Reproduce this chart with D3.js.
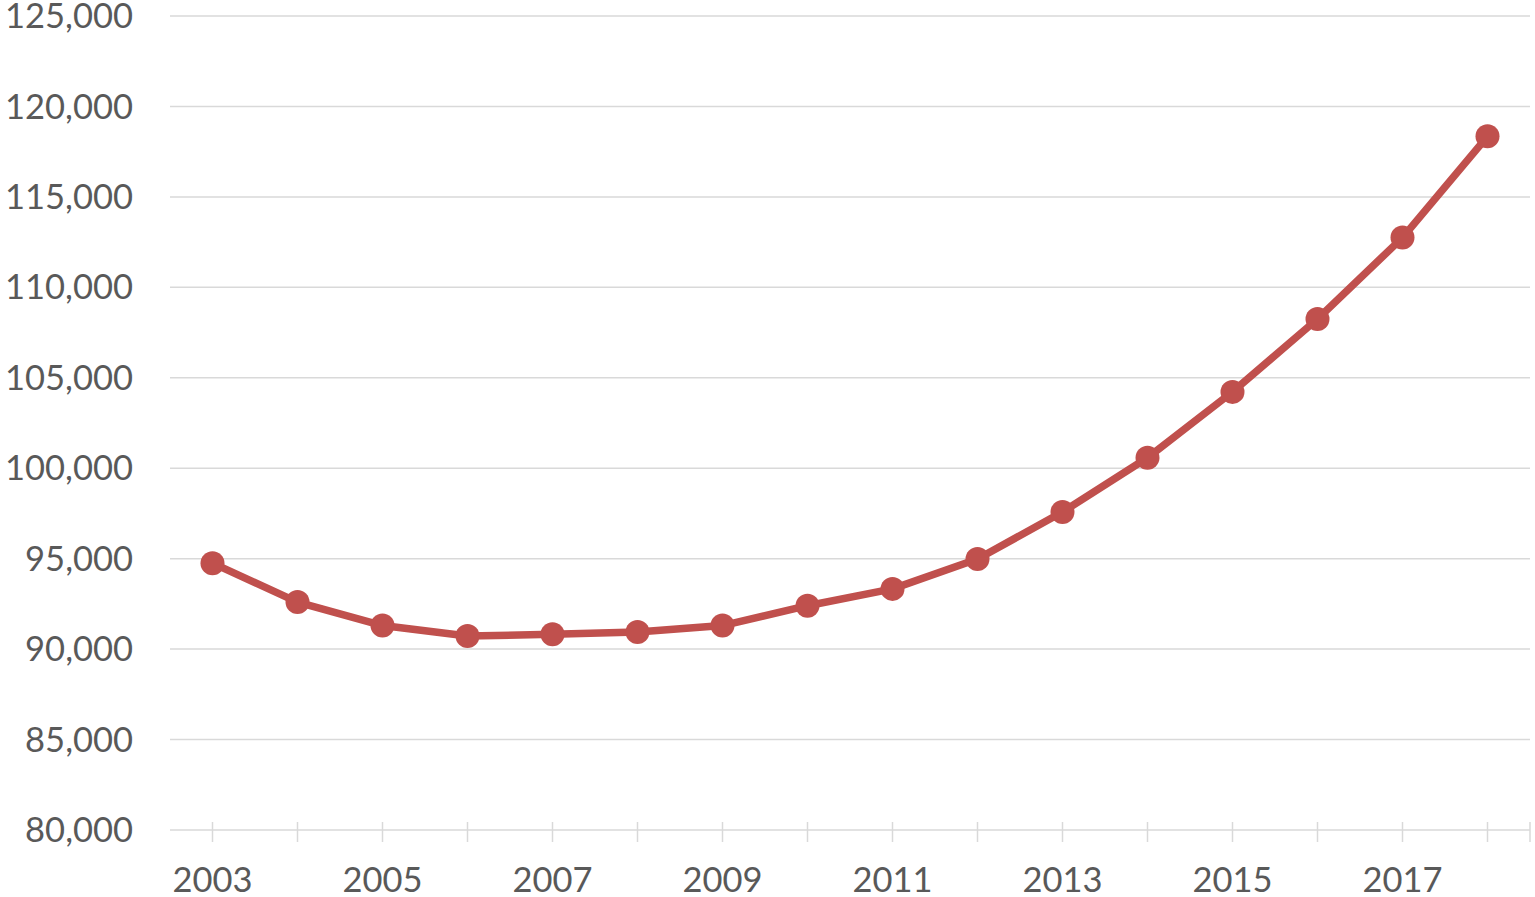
<!DOCTYPE html>
<html><head><meta charset="utf-8">
<script src="https://cdn.jsdelivr.net/npm/d3@7"></script>
<style>html,body{margin:0;padding:0;background:#fff;overflow:hidden}</style>
</head><body>
<svg id="c" width="1535" height="897"></svg>
<script>
const years = ["2003","2004","2005","2006","2007","2008","2009","2010","2011","2012","2013","2014","2015","2016","2017","2018"];
const values = [94750, 92600, 91300, 90720, 90820, 90950, 91300, 92400, 93330, 94980, 97580, 100580, 104220, 108250, 112750, 118350];
const yTicks = [80000, 85000, 90000, 95000, 100000, 105000, 110000, 115000, 120000, 125000];
const xLabels = ["2003","2005","2007","2009","2011","2013","2015","2017"];

(function () {
const svg = d3.select("#c");
const mLeft = 170, mRight = 1530, mTop = 16, mBottom = 830;
const x = d3.scaleBand().domain(years).range([mLeft, mRight]);
const y = d3.scaleLinear().domain([80000, 125000]).range([mBottom, mTop]);
const font = "Lato, 'Open Sans', sans-serif";
const fmt = d3.format(",");

// gridlines
svg.append("g").selectAll("line").data(yTicks.filter(d => d !== 80000)).join("line")
  .attr("x1", mLeft).attr("x2", mRight)
  .attr("y1", d => y(d)).attr("y2", d => y(d))
  .attr("stroke", "#d9d9d9").attr("stroke-width", 1.5);

// y labels
svg.append("g").selectAll("text").data(yTicks).join("text")
  .attr("x", 133).attr("y", d => y(d)).attr("dy", "0.35em")
  .attr("text-anchor", "end").attr("font-family", font).attr("font-size", 34.5)
  .attr("fill", "#595959").text(d => fmt(d));

// x axis
const xa = svg.append("g");
xa.append("line").attr("x1", mLeft).attr("x2", mRight).attr("y1", mBottom).attr("y2", mBottom)
  .attr("stroke", "#d9d9d9").attr("stroke-width", 1.5);
const tickPos = years.map(d => x(d) + x.bandwidth() / 2).concat([mRight]);
xa.selectAll("line.t").data(tickPos).join("line").attr("class", "t")
  .attr("x1", d => d).attr("x2", d => d).attr("y1", mBottom - 8).attr("y2", mBottom + 12)
  .attr("stroke", "#d9d9d9").attr("stroke-width", 1.5);
xa.selectAll("text").data(xLabels).join("text")
  .attr("x", d => x(d) + x.bandwidth() / 2).attr("y", 892)
  .attr("text-anchor", "middle").attr("font-family", font).attr("font-size", 34.5)
  .attr("fill", "#595959").text(d => d);

// line
const pts = years.map((yr, i) => ({yr, v: values[i]}));
const line = d3.line().x(d => x(d.yr) + x.bandwidth() / 2).y(d => y(d.v));
svg.append("path").datum(pts).attr("d", line).attr("fill", "none")
  .attr("stroke", "#c0504d").attr("stroke-width", 7.5).attr("stroke-linejoin", "round");
svg.append("g").selectAll("circle").data(pts).join("circle")
  .attr("cx", d => x(d.yr) + x.bandwidth() / 2).attr("cy", d => y(d.v)).attr("r", 12)
  .attr("fill", "#c0504d");
})();
</script>
</body></html>
